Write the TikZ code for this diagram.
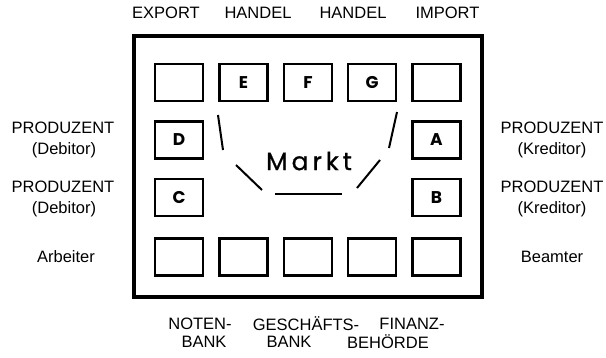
\documentclass[tikz,border=0pt]{standalone}
\usepackage{fontspec}
\setmainfont{Liberation Sans}
\newfontfamily\geo{Poppins}
\newfontfamily\geomark[LetterSpace=16,FakeBold=0.8]{Poppins}
\begin{document}
\begin{tikzpicture}[x=1pt,y=-1pt,
  cell/.style={draw=black,line width=2.6pt,minimum width=48pt,minimum height=37pt,inner sep=0pt,font=\geo\bfseries\fontsize{17}{17}\selectfont},
  lab/.style={font=\fontsize{16.5}{16.5}\selectfont,inner sep=0pt},
  strk/.style={line width=2pt}]
\useasboundingbox (0,0) rectangle (606,357);
\fill[white] (0,0) rectangle (606,357);
% frame
\draw[line width=4pt] (134,36) rectangle (482,297);
% top row
\node[cell] (t1) at (179,82.5) {};
\node[cell] (t2) at (243.5,82.5) {E};
\node[cell] (t3) at (308,82.5) {F};
\node[cell] (t4) at (372,82.5) {G};
\node[cell] (t5) at (436.5,82.5) {};
% middle rows
\node[cell] (d) at (179,140) {D};
\node[cell] (a) at (436.5,140) {A};
\node[cell] (c) at (179,197.5) {C};
\node[cell] (b) at (436.5,197.5) {B};
% bottom row
\node[cell] (b1) at (179,257) {};
\node[cell] (b2) at (243.5,257) {};
\node[cell] (b3) at (308,257) {};
\node[cell] (b4) at (372,257) {};
\node[cell] (b5) at (436.5,257) {};
% Markt
\node[font=\geomark\fontsize{25}{25}\selectfont,inner sep=0pt] (markt) at (309,161) {Markt};
\coordinate (l1a) at (218,115); \coordinate (l1b) at (223,150);
\coordinate (l2a) at (236,165); \coordinate (l2b) at (262,190);
\coordinate (l3a) at (275,194); \coordinate (l3b) at (342,194);
\coordinate (l4a) at (357,188); \coordinate (l4b) at (380,160);
\coordinate (l5a) at (389,148); \coordinate (l5b) at (397,112);
\draw[strk] (l1a) -- (l1b);
\draw[strk] (l2a) -- (l2b);
\draw[strk] (l3a) -- (l3b);
\draw[strk] (l4a) -- (l4b);
\draw[strk] (l5a) -- (l5b);
% top labels
\node[lab] (ex) at (166,13) {EXPORT};
\node[lab] (h1) at (258,13) {HANDEL};
\node[lab] (h2) at (353,13) {HANDEL};
\node[lab] (im) at (447.5,13) {IMPORT};
% left labels
\node[lab] (lp1) at (63,128) {PRODUZENT};
\node[lab] (ld1) at (64,150) {(Debitor)};
\node[lab] (lp2) at (63,187) {PRODUZENT};
\node[lab] (ld2) at (64,209) {(Debitor)};
\node[lab] (arb) at (66,257) {Arbeiter};
% right labels
\node[lab] (rp1) at (552,128) {PRODUZENT};
\node[lab] (rk1) at (552,150) {(Kreditor)};
\node[lab] (rp2) at (552,187) {PRODUZENT};
\node[lab] (rk2) at (552,209) {(Kreditor)};
\node[lab] (bea) at (552,257) {Beamter};
% bottom labels
\node[lab] (n1) at (200,324) {NOTEN-};
\node[lab] (n2) at (204,342) {BANK};
\node[lab] (g1) at (306,324) {GESCHÄFTS-};
\node[lab] (g2) at (289,342) {BANK};
\node[lab] (f1) at (412,324) {FINANZ-};
\node[lab] (f2) at (388,342) {BEHÖRDE};
\end{tikzpicture}
\end{document}
